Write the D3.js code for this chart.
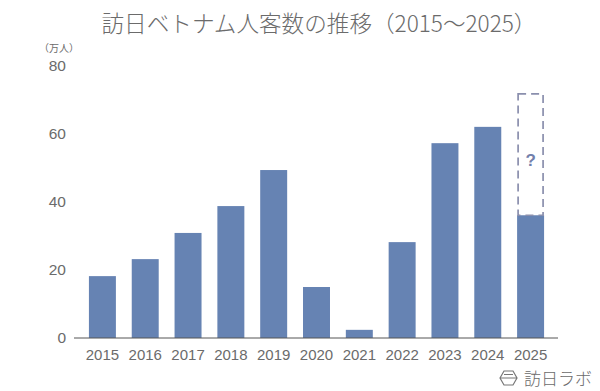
<!DOCTYPE html>
<html>
<head>
<meta charset="utf-8">
<script src="https://cdn.jsdelivr.net/npm/d3@7"></script>
<style>
  body { margin: 0; background: #fff; }
  svg { display: block; }
  text { font-family: "Liberation Sans", "Noto Sans CJK JP", sans-serif; fill: #6b6b6b; }
  .title { font-family: "Noto Sans CJK JP", sans-serif; font-size: 22.6px; font-weight: 300; }
  .tick text { font-size: 15px; }
  .y-axis .tick text { font-size: 15.5px; }
</style>
</head>
<body>
<div class="chart"></div>
<script>
var years = ['2015','2016','2017','2018','2019','2020','2021','2022','2023','2024','2025'];
var visitors = [18.2, 23.2, 30.9, 38.8, 49.4, 15.0, 2.4, 28.2, 57.3, 62.1, 36.1];
var yTicks = [0, 20, 40, 60, 80];
var unknownYear = '2025';
var unknownTop = 71.8;

var svg = d3.select('.chart').append('svg').attr('width', 600).attr('height', 391);

var x = d3.scaleBand().domain(years).range([81, 552]).paddingInner(0.37).paddingOuter(0.185);
var y = d3.scaleLinear().domain([0, 80]).range([338, 66]);

svg.append('text')
    .attr('class', 'title')
    .attr('x', 319).attr('y', 32)
    .attr('text-anchor', 'middle')
    .text('訪日ベトナム人客数の推移（2015～2025）');

svg.append('text')
    .attr('x', 59).attr('y', 52)
    .attr('text-anchor', 'middle')
    .style('font-size', '10px')
    .text('（万人）');

// bars
svg.selectAll('.bar')
    .data(years)
    .join('rect')
    .attr('class', 'bar')
    .attr('x', d => x(d))
    .attr('width', x.bandwidth())
    .attr('y', (d, i) => y(visitors[i]))
    .attr('height', (d, i) => y(0) - y(visitors[i]))
    .attr('fill', '#6683b3');

// dashed box for the rest of 2025
svg.append('rect')
    .attr('x', x(unknownYear) + 1)
    .attr('width', x.bandwidth() - 2)
    .attr('y', y(unknownTop))
    .attr('height', y(visitors[10]) - y(unknownTop))
    .attr('fill', 'none')
    .attr('stroke', '#8a8fad')
    .attr('stroke-width', 1.7)
    .attr('stroke-dasharray', '8 5');

svg.append('text')
    .attr('x', x(unknownYear) + x.bandwidth() / 2)
    .attr('y', 166)
    .attr('text-anchor', 'middle')
    .style('font-size', '17px')
    .style('font-weight', 'bold')
    .style('fill', '#7280ab')
    .text('?');

var xAxis = svg.append('g')
    .attr('transform', 'translate(0,338)')
    .call(d3.axisBottom(x).tickSize(0).tickPadding(11));
xAxis.select('.domain').remove();

var yAxis = svg.append('g')
    .attr('class', 'y-axis')
    .attr('transform', 'translate(66,0)')
    .call(d3.axisLeft(y).tickValues(yTicks).tickSize(0).tickPadding(0));
yAxis.select('.domain').remove();

svg.append('line')
    .attr('x1', 74).attr('x2', 558)
    .attr('y1', y(0)).attr('y2', y(0))
    .attr('stroke', '#555')
    .attr('stroke-width', 1);

// logo, bottom right
var logo = svg.append('g').attr('transform', 'translate(500,371)');
logo.append('path')
    .attr('d', 'M0 7 L4 0 L13 0 L17 7 L13 14 L4 14 Z M0 7 L17 7 M4 3.5 L13 3.5')
    .attr('fill', 'none')
    .attr('stroke', '#777')
    .attr('stroke-width', 1.2);
logo.append('text')
    .attr('x', 24).attr('y', 14)
    .style('font-family', '"Noto Sans CJK JP", sans-serif')
    .style('font-size', '17px')
    .style('font-weight', '300')
    .text('訪日ラボ');
</script>
</body>
</html>
